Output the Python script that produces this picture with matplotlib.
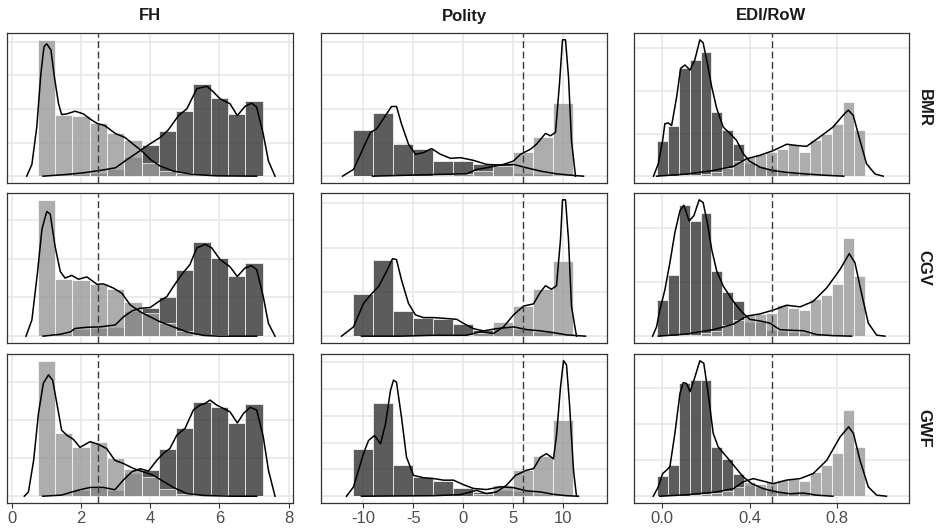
import matplotlib
matplotlib.use("Agg")
import matplotlib.pyplot as plt

plt.rcParams['font.family'] = ['Liberation Sans', 'DejaVu Sans']

measures = ["FH", "Polity", "EDI/RoW"]
codings = ["BMR", "CGV", "GWF"]
thresholds = [2.5, 6, 0.5]

# histogram bins (centres) for each measure
fh_bins = [1.0, 1.5, 2.0, 2.5, 3.0, 3.5, 4.0, 4.5, 5.0, 5.5, 6.0, 6.5, 7.0]
polity_bins = [-10, -8, -6, -4, -2, 0, 2, 4, 6, 8, 10]
edi_bins = [0.00, 0.05, 0.10, 0.15, 0.20, 0.25, 0.30, 0.35, 0.40, 0.45,
            0.50, 0.55, 0.60, 0.65, 0.70, 0.75, 0.80, 0.85, 0.90]
bin_widths = [0.5, 2, 0.05]
x_limits = [(-0.14, 8.13), (-14.25, 14.35), (-0.129, 1.128)]
x_ticks = [[0, 2, 4, 6, 8], [-10, -5, 0, 5, 10], [0.0, 0.4, 0.8]]
x_ticklabels = [["0", "2", "4", "6", "8"], ["-10", "-5", "0", "5", "10"], ["0.0", "0.4", "0.8"]]

# bar heights (autocracies = dark, democracies = light)
fh_bmr_aut = [0.02, 0.02, 0.05, 0.10, 0.22, 0.56, 0.93, 1.35, 1.95, 2.75, 2.33, 1.84, 2.23]
fh_bmr_dem = [4.05, 1.82, 1.80, 1.57, 1.27, 1.06, 0.40, 0.15, 0.08, 0.03, 0.02, 0.01, 0.01]
fh_cgv_aut = [0.02, 0.05, 0.18, 0.20, 0.24, 0.65, 0.74, 1.00, 1.70, 2.43, 2.02, 1.56, 1.89]
fh_cgv_dem = [3.52, 1.48, 1.46, 1.35, 1.22, 0.87, 0.59, 0.35, 0.14, 0.04, 0.02, 0.01, 0.01]
fh_gwf_aut = [0.01, 0.03, 0.17, 0.22, 0.17, 0.61, 0.68, 1.25, 1.79, 2.48, 2.33, 1.93, 2.41]
fh_gwf_dem = [3.55, 1.67, 1.29, 1.42, 0.99, 0.72, 0.50, 0.20, 0.07, 0.02, 0.02, 0.01, 0.01]

polity_bmr_aut = [1.38, 1.88, 0.95, 0.82, 0.45, 0.44, 0.35, 0.37, 0.10, 0.05, 0.02]
polity_bmr_dem = [0.0, 0.0, 0.0, 0.02, 0.03, 0.05, 0.15, 0.30, 0.73, 1.17, 2.17]
polity_cgv_aut = [0.95, 1.73, 0.58, 0.42, 0.38, 0.27, 0.14, 0.21, 0.17, 0.10, 0.03]
polity_cgv_dem = [0.0, 0.0, 0.0, 0.01, 0.02, 0.02, 0.08, 0.33, 0.69, 1.07, 1.69]
polity_gwf_aut = [1.77, 3.47, 1.15, 0.72, 0.57, 0.31, 0.16, 0.22, 0.20, 0.10, 0.03]
polity_gwf_dem = [0.0, 0.0, 0.0, 0.01, 0.02, 0.02, 0.08, 0.43, 0.99, 1.49, 2.85]

edi_bmr_aut = [0.82, 1.17, 2.53, 2.73, 2.91, 1.51, 1.09, 0.76, 0.30, 0.25, 0.20, 0.10, 0.08, 0.05, 0.03, 0.02, 0.01, 0.0, 0.0]
edi_bmr_dem = [0.0, 0.01, 0.02, 0.03, 0.05, 0.10, 0.20, 0.35, 0.45, 0.53, 0.57, 0.64, 0.76, 0.56, 0.86, 1.00, 1.22, 1.74, 1.09]
edi_cgv_aut = [0.67, 1.13, 2.41, 2.12, 2.27, 1.20, 0.82, 0.64, 0.27, 0.27, 0.11, 0.10, 0.08, 0.06, 0.04, 0.02, 0.01, 0.0, 0.0]
edi_cgv_dem = [0.0, 0.01, 0.02, 0.03, 0.05, 0.10, 0.20, 0.30, 0.39, 0.41, 0.42, 0.58, 0.51, 0.48, 0.68, 0.76, 0.96, 1.80, 1.11]
edi_gwf_aut = [0.56, 0.86, 3.14, 3.23, 3.23, 1.37, 1.05, 0.61, 0.31, 0.26, 0.20, 0.12, 0.10, 0.08, 0.05, 0.03, 0.01, 0.0, 0.0]
edi_gwf_dem = [0.0, 0.01, 0.02, 0.03, 0.05, 0.10, 0.15, 0.25, 0.40, 0.35, 0.40, 0.46, 0.49, 0.43, 0.68, 0.86, 1.21, 2.41, 1.37]

# density curves, (x, y)
fh_bmr_dem_kde = [(0.43, 0), (0.58, 0.35), (0.72, 1.45), (0.84, 3.05), (0.93, 3.85), (1.01, 3.93),
                  (1.13, 3.75), (1.23, 2.95), (1.35, 2.15), (1.44, 1.83), (1.59, 1.85), (1.83, 1.93),
                  (2.07, 1.85), (2.26, 1.7), (2.46, 1.57), (2.69, 1.5), (2.99, 1.27), (3.27, 1.15),
                  (3.51, 0.95), (3.76, 0.75), (4.0, 0.5), (4.29, 0.3), (4.67, 0.15), (5.25, 0.05),
                  (5.92, 0.01), (7.08, 0)]
fh_bmr_aut_kde = [(0.9, 0), (1.57, 0.05), (2.07, 0.1), (2.55, 0.17), (3.0, 0.25), (3.27, 0.45),
                  (3.7, 0.75), (3.95, 0.93), (4.29, 1.15), (4.52, 1.37), (4.82, 1.8), (5.06, 2.0),
                  (5.35, 2.6), (5.64, 2.67), (5.83, 2.5), (6.02, 2.3), (6.31, 2.15), (6.52, 1.8),
                  (6.74, 2.07), (6.93, 2.17), (7.08, 2.05), (7.27, 1.25), (7.42, 0.45), (7.61, 0.0)]
fh_cgv_dem_kde = [(0.41, 0), (0.58, 0.42), (0.74, 1.63), (0.87, 2.76), (1.01, 3.22), (1.11, 3.15),
                  (1.25, 2.32), (1.4, 1.67), (1.54, 1.5), (1.73, 1.57), (1.93, 1.47), (2.17, 1.53),
                  (2.46, 1.34), (2.65, 1.35), (2.94, 1.24), (3.18, 1.11), (3.42, 0.81), (3.71, 0.63),
                  (4.0, 0.5), (4.29, 0.37), (4.67, 0.24), (5.06, 0.11), (5.54, 0.02), (6.0, 0), (7.08, 0)]
fh_cgv_aut_kde = [(0.9, 0), (1.4, 0.05), (1.69, 0.11), (1.83, 0.2), (2.17, 0.23), (2.55, 0.24),
                  (2.99, 0.29), (3.23, 0.5), (3.47, 0.65), (3.71, 0.72), (4.0, 0.74), (4.24, 0.89),
                  (4.48, 1.02), (4.67, 1.28), (4.91, 1.59), (5.15, 1.85), (5.35, 2.28), (5.59, 2.37),
                  (5.78, 2.28), (6.02, 1.98), (6.31, 1.79), (6.52, 1.54), (6.74, 1.76), (6.93, 1.82),
                  (7.08, 1.72), (7.27, 1.02), (7.42, 0.33), (7.61, 0)]
fh_gwf_dem_kde = [(0.36, 0), (0.48, 0.11), (0.63, 0.94), (0.77, 2.17), (0.91, 2.96), (1.06, 3.18),
                  (1.18, 3.04), (1.32, 2.34), (1.44, 1.73), (1.59, 1.6), (1.78, 1.49), (1.97, 1.28),
                  (2.26, 1.43), (2.5, 1.36), (2.74, 1.25), (2.98, 0.94), (3.22, 0.86), (3.51, 0.73),
                  (3.8, 0.64), (4.09, 0.55), (4.38, 0.39), (4.67, 0.23), (5.06, 0.07), (5.54, 0.02),
                  (6.4, 0), (7.08, 0)]
fh_gwf_aut_kde = [(0.89, 0), (1.44, 0.03), (1.73, 0.11), (1.97, 0.17), (2.26, 0.23), (2.65, 0.23),
                  (2.98, 0.17), (3.22, 0.42), (3.47, 0.64), (3.71, 0.72), (3.95, 0.66), (4.19, 0.94),
                  (4.38, 1.12), (4.57, 1.25), (4.77, 1.6), (5.01, 1.78), (5.25, 2.26), (5.44, 2.39),
                  (5.59, 2.43), (5.73, 2.52), (5.92, 2.39), (6.12, 2.3), (6.31, 2.21), (6.52, 1.92),
                  (6.7, 2.17), (6.89, 2.33), (7.08, 2.26), (7.27, 1.56), (7.42, 0.68), (7.61, 0)]

polity_bmr_aut_kde = [(-12.1, 0), (-11.0, 0.2), (-10.0, 0.85), (-9.3, 1.3), (-8.7, 1.4), (-7.8, 1.8),
                      (-7.2, 2.07), (-6.7, 2.07), (-6.2, 1.55), (-5.5, 0.95), (-4.8, 0.65), (-4.0, 0.7),
                      (-3.2, 0.82), (-2.3, 0.65), (-1.3, 0.53), (-0.3, 0.55), (1.0, 0.47), (2.3, 0.35),
                      (3.7, 0.33), (5.0, 0.35), (6.3, 0.25), (7.7, 0.15), (9.3, 0.07), (10.7, 0.03), (12.0, 0)]
polity_bmr_dem_kde = [(-9.1, 0), (-3.0, 0.05), (0.3, 0.07), (1.3, 0.2), (2.3, 0.25), (4.0, 0.35),
                      (5.0, 0.45), (5.7, 0.65), (6.7, 0.8), (7.3, 0.95), (8.2, 1.27), (8.7, 1.2),
                      (9.2, 1.3), (9.6, 2.75), (9.9, 4.05), (10.2, 4.05), (10.5, 2.95), (10.8, 1.05), (11.2, 0)]
polity_cgv_aut_kde = [(-12.2, 0), (-11.0, 0.21), (-10.0, 0.74), (-9.3, 0.93), (-8.5, 1.12), (-7.7, 1.46),
                      (-7.1, 1.75), (-6.7, 1.73), (-6.2, 1.27), (-5.5, 0.74), (-4.8, 0.48), (-4.0, 0.42),
                      (-3.0, 0.42), (-1.7, 0.4), (-0.67, 0.38), (0.0, 0.29), (1.0, 0.17), (2.0, 0.12),
                      (3.3, 0.17), (5.0, 0.21), (6.3, 0.15), (7.7, 0.12), (9.0, 0.08), (10.3, 0.03), (12.2, 0)]
polity_cgv_dem_kde = [(-10.2, 0), (-6.3, 0.0), (-3.0, 0.02), (0.3, 0.02), (1.7, 0.1), (3.0, 0.06),
                      (4.0, 0.21), (5.0, 0.48), (6.0, 0.68), (7.0, 0.73), (7.7, 1.0), (8.2, 1.14),
                      (8.8, 1.06), (9.3, 1.14), (9.7, 2.18), (9.9, 3.08), (10.2, 3.08), (10.5, 2.18),
                      (10.8, 0.67), (11.3, 0)]
polity_gwf_aut_kde = [(-11.7, 0), (-11.0, 0.35), (-10.0, 1.59), (-9.5, 2.08), (-8.9, 2.27), (-8.3, 1.96),
                      (-7.8, 2.7), (-7.3, 3.95), (-7.0, 4.34), (-6.7, 4.26), (-6.2, 2.95), (-5.7, 1.46),
                      (-5.0, 0.78), (-4.0, 0.69), (-3.0, 0.66), (-2.0, 0.6), (-1.0, 0.6), (0.0, 0.43),
                      (1.0, 0.29), (2.3, 0.25), (3.7, 0.35), (5.0, 0.32), (6.3, 0.2), (7.7, 0.16),
                      (9.0, 0.07), (10.3, 0.02), (11.5, 0)]
polity_gwf_dem_kde = [(-10.2, 0), (-3.0, 0.02), (-0.3, 0.06), (1.3, 0.22), (2.3, 0.1), (3.3, 0.16),
                      (4.3, 0.41), (5.2, 0.78), (6.3, 0.97), (7.0, 1.03), (7.7, 1.46), (8.3, 1.59),
                      (9.0, 1.4), (9.3, 2.27), (9.7, 4.07), (10.0, 5.06), (10.3, 4.91), (10.6, 3.45),
                      (11.0, 0.97), (11.3, 0)]

edi_bmr_aut_kde = [(-0.04, 0), (-0.018, 0.29), (0.002, 0.84), (0.012, 1.23), (0.027, 1.25), (0.043, 1.19),
                   (0.066, 1.86), (0.084, 2.53), (0.104, 2.61), (0.127, 2.49), (0.149, 2.73), (0.172, 3.2),
                   (0.187, 3.13), (0.206, 2.65), (0.226, 2.1), (0.249, 1.59), (0.279, 1.15), (0.31, 1.0),
                   (0.34, 0.84), (0.37, 0.53), (0.40, 0.35), (0.447, 0.21), (0.507, 0.13), (0.569, 0.09),
                   (0.66, 0.05), (0.75, 0.02), (0.83, 0)]
edi_bmr_dem_kde = [(-0.026, 0), (0.11, 0.05), (0.23, 0.13), (0.325, 0.23), (0.386, 0.41), (0.447, 0.49),
                   (0.507, 0.6), (0.569, 0.75), (0.614, 0.72), (0.66, 0.7), (0.72, 0.92), (0.78, 1.15),
                   (0.827, 1.43), (0.85, 1.55), (0.873, 1.43), (0.904, 0.84), (0.934, 0.29), (0.973, 0.05),
                   (1.01, 0)]
edi_cgv_aut_kde = [(-0.044, 0), (-0.026, 0.17), (-0.011, 0.48), (0.012, 0.85), (0.035, 1.35), (0.058, 1.91),
                   (0.081, 2.31), (0.099, 2.41), (0.123, 2.12), (0.145, 2.22), (0.169, 2.51), (0.187, 2.46),
                   (0.206, 2.09), (0.226, 1.6), (0.249, 1.2), (0.279, 0.92), (0.325, 0.64), (0.363, 0.45),
                   (0.40, 0.31), (0.447, 0.28), (0.492, 0.24), (0.538, 0.12), (0.584, 0.11), (0.645, 0.1),
                   (0.706, 0.03), (0.78, 0.01), (0.866, 0)]
edi_cgv_dem_kde = [(-0.018, 0), (0.11, 0.04), (0.233, 0.12), (0.325, 0.22), (0.386, 0.37), (0.447, 0.41),
                   (0.507, 0.48), (0.569, 0.57), (0.63, 0.54), (0.69, 0.64), (0.752, 0.89), (0.813, 1.23),
                   (0.855, 1.52), (0.881, 1.35), (0.911, 0.79), (0.942, 0.24), (0.98, 0.02), (1.018, 0)]
edi_gwf_aut_kde = [(-0.041, 0), (-0.018, 0.26), (0.002, 0.63), (0.017, 0.71), (0.035, 0.82), (0.058, 1.75),
                   (0.081, 2.86), (0.096, 3.16), (0.111, 3.14), (0.127, 2.91), (0.145, 3.23), (0.172, 3.77),
                   (0.19, 3.7), (0.21, 2.86), (0.233, 1.75), (0.256, 1.37), (0.294, 1.1), (0.332, 0.82),
                   (0.37, 0.54), (0.409, 0.35), (0.462, 0.21), (0.523, 0.12), (0.584, 0.07), (0.645, 0.09),
                   (0.706, 0.03), (0.78, 0)]
edi_gwf_dem_kde = [(-0.011, 0), (0.11, 0.04), (0.248, 0.12), (0.325, 0.21), (0.37, 0.4), (0.416, 0.49),
                   (0.462, 0.42), (0.507, 0.35), (0.569, 0.45), (0.63, 0.49), (0.69, 0.63), (0.752, 1.0),
                   (0.813, 1.65), (0.852, 1.93), (0.874, 1.75), (0.904, 1.0), (0.942, 0.26), (0.98, 0.03),
                   (1.025, 0)]

bins = [fh_bins, polity_bins, edi_bins]
bars = [
    [(fh_bmr_aut, fh_bmr_dem), (polity_bmr_aut, polity_bmr_dem), (edi_bmr_aut, edi_bmr_dem)],
    [(fh_cgv_aut, fh_cgv_dem), (polity_cgv_aut, polity_cgv_dem), (edi_cgv_aut, edi_cgv_dem)],
    [(fh_gwf_aut, fh_gwf_dem), (polity_gwf_aut, polity_gwf_dem), (edi_gwf_aut, edi_gwf_dem)],
]
curves = [
    [(fh_bmr_aut_kde, fh_bmr_dem_kde), (polity_bmr_aut_kde, polity_bmr_dem_kde), (edi_bmr_aut_kde, edi_bmr_dem_kde)],
    [(fh_cgv_aut_kde, fh_cgv_dem_kde), (polity_cgv_aut_kde, polity_cgv_dem_kde), (edi_cgv_aut_kde, edi_cgv_dem_kde)],
    [(fh_gwf_aut_kde, fh_gwf_dem_kde), (polity_gwf_aut_kde, polity_gwf_dem_kde), (edi_gwf_aut_kde, edi_gwf_dem_kde)],
]

W, H = 937, 528
fig = plt.figure(figsize=(W / 100, H / 100), dpi=100)

# panel boxes in pixels (left, right) / (top, bottom)
col_px = [(7, 293), (321, 607), (634, 909)]
row_px = [(33, 183), (193, 343), (354, 503)]

for r in range(3):
    for c in range(3):
        x0, x1 = col_px[c]
        y0, y1 = row_px[r]
        ax = fig.add_axes([x0 / W, 1 - y1 / H, (x1 - x0) / W, (y1 - y0) / H])
        aut, dem = bars[r][c]
        aut_kde, dem_kde = curves[r][c]

        ax.bar(bins[c], aut, width=bin_widths[c], color='#333333', alpha=0.8,
               edgecolor='white', linewidth=0.6, zorder=2)
        ax.bar(bins[c], dem, width=bin_widths[c], color='#999999', alpha=0.8,
               edgecolor='white', linewidth=0.6, zorder=3)
        for kde in (aut_kde, dem_kde):
            xs = [p[0] for p in kde]
            ys = [p[1] for p in kde]
            ax.plot(xs, ys, color='black', lw=1.1, zorder=4)
        ax.axvline(thresholds[c], color='#3a3a3a', lw=1.0, ls=(0, (5, 2.5)), zorder=5)

        top = max(max(aut), max(dem), max(p[1] for p in aut_kde), max(p[1] for p in dem_kde))
        ax.set_ylim(-0.05 * top, 1.05 * top)
        ax.set_xlim(*x_limits[c])
        ax.set_yticks(list(range(0, int(1.05 * top) + 1)))
        ax.set_xticks(x_ticks[c])
        ax.grid(True, color='#e6e6e6', lw=1.1)
        ax.set_axisbelow(True)
        ax.tick_params(axis='y', left=False, labelleft=False)
        if r == 2:
            ax.set_xticklabels(x_ticklabels[c])
            ax.tick_params(axis='x', length=3.5, width=0.8, color='#333333',
                           labelsize=12, labelcolor='#4d4d4d', pad=2)
        else:
            ax.tick_params(axis='x', bottom=False, labelbottom=False)
        for s in ax.spines.values():
            s.set_color('#333333')
            s.set_linewidth(0.9)

# strip labels
for c in range(3):
    x0, x1 = col_px[c]
    fig.text((x0 + x1) / 2 / W, 1 - 16 / H, measures[c], ha='center', va='center',
             fontsize=12, fontweight='bold', color='#1a1a1a')
for r in range(3):
    y0, y1 = row_px[r]
    fig.text(924 / W, 1 - (y0 + y1) / 2 / H, codings[r], ha='center', va='center',
             rotation=-90, fontsize=12, fontweight='bold', color='#1a1a1a')

fig.savefig("out.png", dpi=100)
